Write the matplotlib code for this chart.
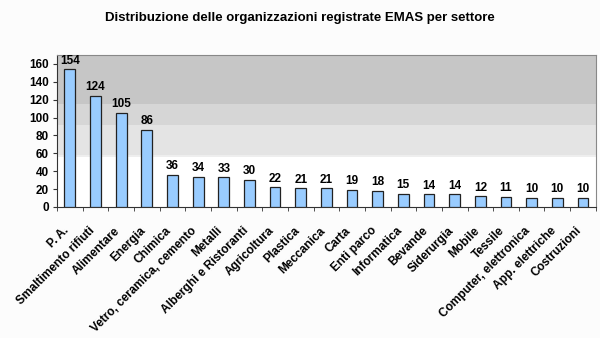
import matplotlib
matplotlib.use("Agg")
import matplotlib.pyplot as plt
import matplotlib.transforms as mtransforms
import numpy as np

categories = ["P. A.", "Smaltimento rifiuti", "Alimentare", "Energia", "Chimica",
              "Vetro, ceramica, cemento", "Metalli", "Alberghi e Ristoranti", "Agricoltura",
              "Plastica", "Meccanica", "Carta", "Enti parco", "Informatica", "Bevande",
              "Siderurgia", "Mobile", "Tessile", "Computer, elettronica", "App. elettriche",
              "Costruzioni"]
values = [154, 124, 105, 86, 36, 34, 33, 30, 22, 21, 21, 19, 18, 15, 14, 14, 12, 11, 10, 10, 10]
title = "Distribuzione delle organizzazioni registrate EMAS per settore"
yticks = [0, 20, 40, 60, 80, 100, 120, 140, 160]

plt.rcParams['font.family'] = ['Liberation Sans', 'DejaVu Sans']

fig = plt.figure(figsize=(6.0, 3.38), dpi=100)
fig.patch.set_facecolor('#fcfcfc')
ax = fig.add_axes([0.095, 0.3876, 0.898, 0.4497])

n = len(categories)
x = np.arange(n)
ymax = 170

# banded gradient background
bands = [(115, ymax, '#c6c6c6'), (92, 115, '#d6d6d6'), (58, 92, '#e4e4e4'), (56, 58, '#eeeeee'), (0, 56, '#ffffff')]
for lo, hi, c in bands:
    ax.axhspan(lo, hi, color=c, zorder=0, lw=0)

ax.bar(x, values, width=0.42, color='#99ccff', edgecolor='#222222', linewidth=0.9, zorder=3)
for xi, v in zip(x, values):
    ax.text(xi, v + 3, str(v), ha='center', va='bottom', fontsize=8.5, fontweight='bold', zorder=4)

ax.set_xlim(-0.5, n - 0.5)
ax.set_ylim(0, ymax)
ax.set_yticks(yticks)
ax.set_yticklabels([str(t) for t in yticks], fontsize=8.5, fontweight='bold')
ax.set_xticks(x)
ax.set_xticklabels(categories, rotation=45, ha='right', va='center', rotation_mode='anchor',
                   fontsize=8.6, fontweight='bold')
ax.tick_params(axis='x', which='major', length=0, pad=13)
offset = mtransforms.ScaledTranslation(-3 / 100, -4 / 100, fig.dpi_scale_trans)
for lab in ax.get_xticklabels():
    lab.set_transform(lab.get_transform() + offset)
ax.set_xticks(np.arange(n + 1) - 0.5, minor=True)
ax.tick_params(axis='x', which='minor', length=3, color='#333333')
ax.tick_params(axis='y', length=3, color='#333333', pad=3)

for s in ['top', 'right']:
    ax.spines[s].set_color('#888888')
for s in ['left', 'bottom']:
    ax.spines[s].set_color('#333333')

fig.text(0.5, 0.948, title, ha='center', va='center', fontsize=9.5, fontweight='bold')

fig.savefig("out.png", dpi=100, facecolor=fig.get_facecolor())
